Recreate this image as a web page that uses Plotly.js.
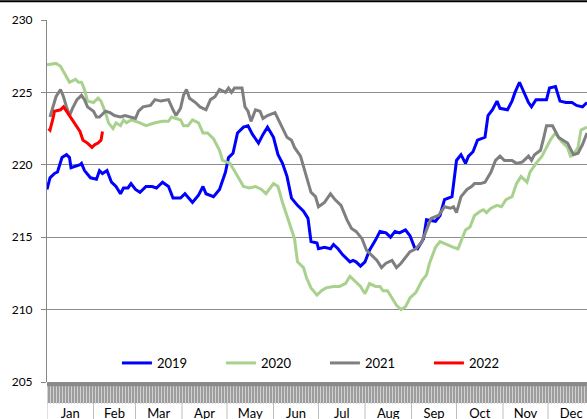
<!DOCTYPE html>
<html>
<head>
<meta charset="utf-8">
<script src="https://cdn.plot.ly/plotly-3.0.1.min.js"></script>
<style>html,body{margin:0;padding:0;overflow:hidden;background:#fff}#chart{width:587px;height:419px}</style>
</head>
<body>
<div id="chart"></div>
<script>
// Day-of-year (x) and value (y) pairs
const days2019 = [1,3,6,8,11,14,16,17,23,24,26,30,34,36,38,41,44,47,50,52,55,57,60,63,67,71,74,78,82,85,90,93,98,102,105,107,112,116,120,122,125,128,132,135,138,142,145,148,152,155,158,161,164,168,172,175,177,181,182,186,190,192,195,198,203,205,207,210,213,216,220,223,227,230,233,236,240,243,246,248,252,254,260,263,266,271,274,277,280,282,285,288,293,295,298,301,303,308,311,313,316,318,322,324,327,334,336,340,343,347,351,354,358,361];
const vals2019 = [218.3,219.1,219.4,219.5,220.5,220.7,220.5,219.8,220.0,220.1,219.6,219.1,219.0,219.6,219.4,219.6,218.8,218.5,218.0,218.4,218.4,218.7,218.3,218.1,218.5,218.5,218.4,218.8,218.5,217.7,217.7,218.0,217.4,217.9,218.5,218.0,217.8,218.3,219.5,220.5,220.8,222.2,222.6,222.7,222.1,221.5,222.1,222.6,221.9,220.7,220.1,219.2,217.7,217.2,216.8,216.3,214.7,214.6,214.2,214.3,214.2,214.5,214.2,213.8,213.3,213.4,213.3,213.0,213.3,214.1,214.8,215.4,215.3,215.0,215.4,215.3,215.5,215.1,214.3,214.2,214.9,216.2,216.1,216.5,217.6,217.8,220.3,220.7,220.1,220.6,220.9,221.7,221.9,223.4,223.8,224.4,223.9,223.8,224.4,225.0,225.7,225.2,224.3,224.0,224.5,224.5,225.3,225.4,224.4,224.3,224.3,224.1,224.0,224.3];

const days2020 = [1,7,10,13,16,20,22,24,26,28,32,35,37,40,42,45,47,50,52,54,57,63,67,73,78,82,84,87,90,92,95,98,102,105,108,112,116,118,123,127,132,136,140,144,147,152,155,158,163,166,168,172,174,177,181,184,187,192,196,200,203,206,210,213,216,220,223,225,228,231,234,237,240,243,247,251,254,256,260,263,267,272,275,277,280,283,286,290,292,294,297,301,304,307,311,314,317,321,323,327,331,334,337,340,344,348,350,352,355,357,361];
const vals2020 = [226.9,227.0,226.8,226.2,225.7,225.9,225.7,225.7,225.2,224.4,224.3,224.6,224.4,223.6,222.9,222.5,222.9,222.7,223.1,222.9,223.1,222.9,222.7,222.9,223.0,223.0,223.3,223.2,223.1,222.7,222.7,223.1,222.9,222.2,222.2,221.8,221.0,220.3,220.1,219.4,218.5,218.4,218.5,218.3,218.0,218.7,218.5,217.4,215.8,214.9,213.3,212.9,212.2,211.5,211.0,211.3,211.5,211.6,211.6,211.8,212.3,212.0,211.6,211.1,211.8,211.6,211.6,211.3,211.3,210.8,210.3,210.0,210.2,210.8,211.2,212.0,212.4,213.2,214.3,214.7,214.5,214.3,214.2,214.7,215.5,215.7,216.5,216.8,216.9,216.7,217.0,217.2,217.1,217.6,217.8,218.7,219.2,218.8,219.5,220.1,220.6,221.2,221.8,222.2,221.6,221.2,220.6,220.7,221.2,222.4,222.6];

const days2021 = [3,5,7,10,12,14,16,18,21,24,26,28,32,34,36,40,43,46,50,53,56,60,62,65,70,73,77,82,85,87,90,92,94,96,100,103,107,110,113,116,120,122,124,126,131,133,135,137,140,143,145,148,153,155,158,161,164,166,170,172,174,177,180,182,186,190,193,197,201,204,207,211,214,217,221,224,227,231,234,237,240,243,247,251,254,257,262,266,270,272,274,277,281,284,286,290,293,297,300,303,306,311,314,318,322,324,326,330,332,334,338,342,345,348,352,355,358,361];
const vals2021 = [223.3,224.0,224.7,225.2,224.7,224.0,223.4,223.9,224.5,224.8,224.5,224.0,223.7,223.3,223.3,223.7,223.6,223.4,223.3,223.4,223.3,223.2,223.7,224.0,224.1,224.5,224.4,224.5,223.8,223.4,223.9,224.8,225.2,224.6,224.3,224.0,223.8,224.5,224.7,225.2,225.0,225.3,225.0,225.3,225.3,224.0,223.7,223.0,223.8,223.7,223.2,223.4,223.6,223.2,222.5,221.9,221.7,221.2,220.6,219.9,219.1,218.1,217.8,217.1,217.4,218.0,217.6,217.2,216.2,215.6,215.4,214.9,214.1,213.8,213.4,212.9,213.2,213.4,212.9,213.2,213.6,214.0,214.2,214.7,215.5,216.3,216.5,217.1,217.0,217.1,216.7,217.8,218.3,218.5,218.7,218.7,218.8,219.5,220.3,220.6,220.3,220.3,220.1,220.2,220.6,220.3,220.7,221.0,221.8,222.7,222.7,221.9,221.7,221.5,220.7,220.8,221.4,222.2];

const days2022 = [2,3,5,6,10,12,14,16,18,21,23,25,28,31,33,35,37,38];
const vals2022 = [222.5,222.4,223.2,223.7,223.8,224.0,223.7,223.4,223.1,222.6,222.3,221.7,221.5,221.2,221.4,221.5,221.7,222.3];

const seriesNames = ['2019','2020','2021','2022'];
const seriesColors = ['#0000ff','#a9d18e','#7f7f7f','#ff0000'];

const months = ['Jan','Feb','Mar','Apr','May','Jun','Jul','Aug','Sep','Oct','Nov','Dec'];
const monthStart = [1,32,60,91,121,152,182,213,244,274,305,335];
const monthEnd = [32,60,91,121,152,182,213,244,274,305,335,366];
const yTicks = [205,210,215,220,225,230];

const xs = [days2019, days2020, days2021, days2022];
const ys = [vals2019, vals2020, vals2021, vals2022];

const traces = seriesNames.map((n, i) => ({
  x: xs[i], y: ys[i], name: n, type: 'scatter', mode: 'lines',
  line: {color: seriesColors[i], width: 3}
}));
// invisible trace that carries the daily tick band axis
traces.push({x: [1, 361], y: [205, 205], xaxis: 'x2', mode: 'lines', line: {width: 0}, showlegend: false, hoverinfo: 'skip'});

const monthMid = monthStart.map((s, i) => (s + monthEnd[i]) / 2);

const shapes = [];
shapes.push({type:'rect', xref:'paper', yref:'paper', x0:0, x1:1, y0:-0.058, y1:0, fillcolor:'#9d9d9d', line:{width:0}, layer:'below'});
shapes.push({type:'rect', xref:'paper', yref:'paper', x0:0, x1:1, y0:-0.012, y1:0, fillcolor:'#8a8a8a', line:{width:0}, layer:'above'});
monthStart.forEach(d => {
  shapes.push({type:'line', xref:'x', yref:'paper', x0:d, x1:d, y0:-0.058, y1:-0.11, line:{color:'#bfbfbf', width:1}});
});
shapes.push({type:'line', xref:'paper', yref:'paper', x0:-0.1, x1:1.02, y0:1.052, y1:1.052, line:{color:'#000', width:2}});

const layout = {
  width: 587, height: 419,
  margin: {l:47, r:0, t:20, b:37, pad:0},
  paper_bgcolor: '#fff', plot_bgcolor: '#fff',
  font: {family: 'Lato, "Liberation Sans", sans-serif', color: '#000', size: 12},
  showlegend: true,
  legend: {orientation:'h', x:0.1295, y:0.0525, xanchor:'left', yanchor:'middle',
    font:{size:13, color:'#000'}, bgcolor:'rgba(0,0,0,0)', entrywidth:59, entrywidthmode:'pixels', itemwidth:30},
  xaxis: {
    range: [1, 361], showgrid: false, zeroline: false, showline: false,
    tickmode: 'array', tickvals: monthMid, ticktext: months, ticks: '',
    tickfont: {size: 13}, ticklabelstandoff: 22
  },
  xaxis2: {
    overlaying: 'x', side: 'bottom', anchor: 'y', range: [1, 361],
    tickmode: 'linear', tick0: 1, dtick: 2, ticks: 'outside', ticklen: 21, tickwidth: 1, tickcolor: '#d2d2d2',
    showticklabels: false, showgrid: false, zeroline: false, showline: false
  },
  yaxis: {
    range: [205, 230], tickmode: 'array', tickvals: yTicks, showgrid: true, gridcolor: '#8c8c8c', gridwidth: 1,
    zeroline: false, showline: true, linecolor: '#868686', linewidth: 1,
    ticks: 'outside', ticklen: 5, tickcolor: '#868686', ticklabelstandoff: 6, tickfont: {size: 12}
  },
  shapes: shapes
};

Plotly.newPlot('chart', traces, layout, {displayModeBar: false, staticPlot: true});
</script>
</body>
</html>
